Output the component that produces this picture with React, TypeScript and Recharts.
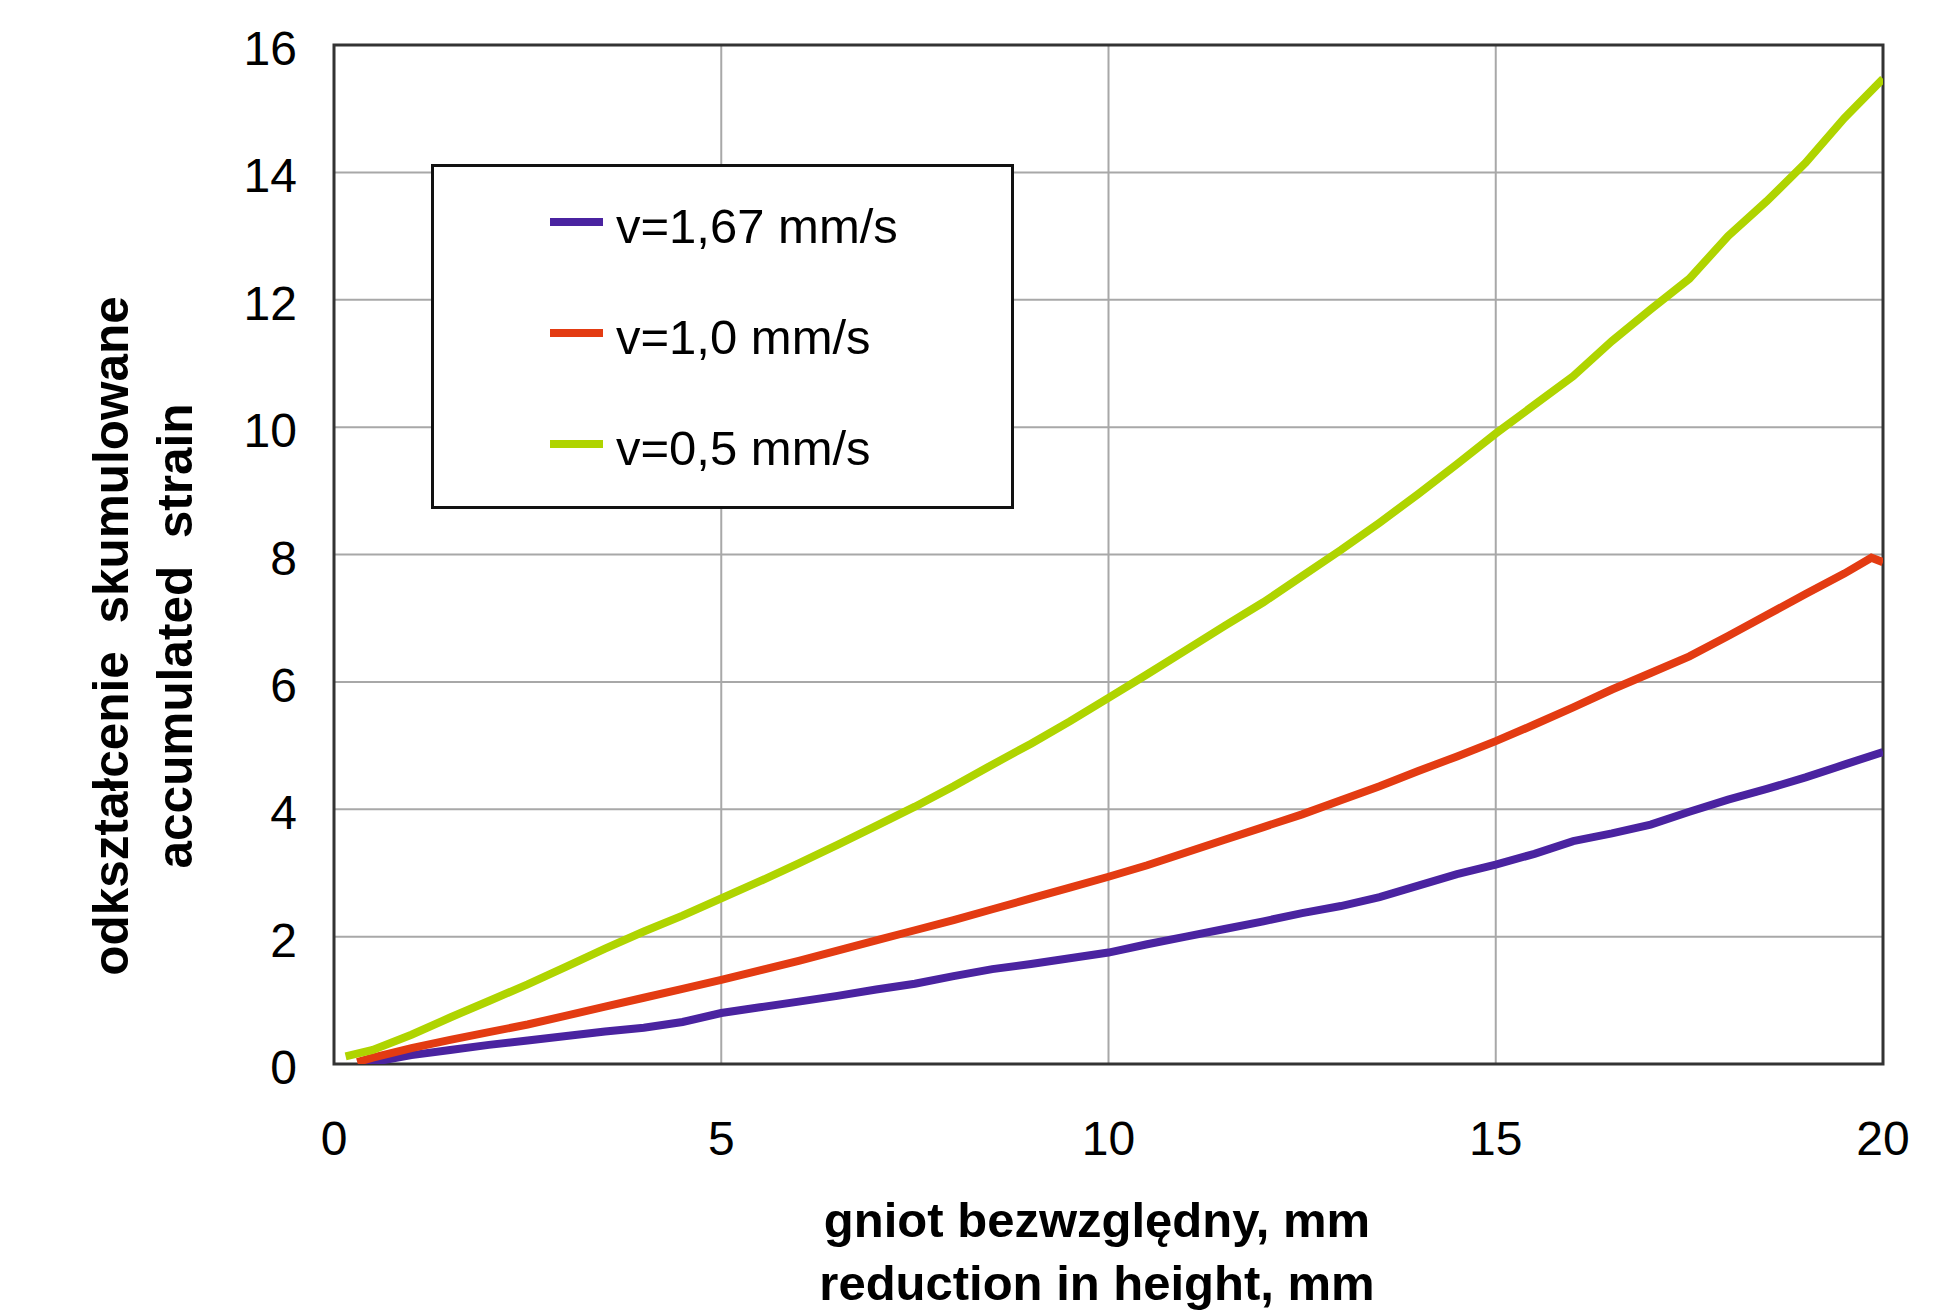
import React from 'react';
import { LineChart, Line, XAxis, YAxis, CartesianGrid, ReferenceArea, Legend, Label } from 'recharts';

const FONT = '"Liberation Sans", Arial, Helvetica, sans-serif';

const seriesNames = ['v=1,67 mm/s', 'v=1,0 mm/s', 'v=0,5 mm/s'];
const seriesColors = ['#4a23a0', '#e33b12', '#afd400'];

const purpleX = [0.4, 0.5, 1.0, 1.5, 2.0, 2.5, 3.0, 3.5, 4.0, 4.5, 5.0, 5.5, 6.0, 6.5, 7.0, 7.5, 8.0, 8.5, 9.0, 9.5, 10.0, 10.5, 11.0, 11.5, 12.0, 12.5, 13.0, 13.5, 14.0, 14.5, 15.0, 15.5, 16.0, 16.5, 17.0, 17.5, 18.0, 18.5, 19.0, 19.5, 20.0];
const purpleY = [0.0, 0.03, 0.14, 0.22, 0.30, 0.37, 0.44, 0.51, 0.57, 0.66, 0.80, 0.89, 0.98, 1.07, 1.17, 1.26, 1.38, 1.49, 1.57, 1.66, 1.75, 1.88, 2.00, 2.12, 2.24, 2.37, 2.48, 2.62, 2.80, 2.98, 3.13, 3.30, 3.50, 3.62, 3.76, 3.96, 4.15, 4.32, 4.50, 4.70, 4.90];

const redX = [0.3, 0.5, 1.0, 1.5, 2.0, 2.5, 3.0, 3.5, 4.0, 4.5, 5.0, 5.5, 6.0, 6.5, 7.0, 7.5, 8.0, 8.5, 9.0, 9.5, 10.0, 10.5, 11.0, 11.5, 12.0, 12.5, 13.0, 13.5, 14.0, 14.5, 15.0, 15.5, 16.0, 16.5, 17.0, 17.5, 18.0, 18.5, 19.0, 19.5, 19.85, 20.0];
const redY = [0.03, 0.10, 0.25, 0.38, 0.50, 0.62, 0.76, 0.90, 1.04, 1.18, 1.32, 1.47, 1.62, 1.78, 1.94, 2.10, 2.26, 2.43, 2.60, 2.77, 2.94, 3.12, 3.32, 3.52, 3.72, 3.92, 4.14, 4.36, 4.60, 4.83, 5.07, 5.33, 5.60, 5.88, 6.14, 6.40, 6.72, 7.05, 7.38, 7.70, 7.95, 7.88];

const greenX = [0.15, 0.5, 1.0, 1.5, 2.0, 2.5, 3.0, 3.5, 4.0, 4.5, 5.0, 5.5, 6.0, 6.5, 7.0, 7.5, 8.0, 8.5, 9.0, 9.5, 10.0, 10.5, 11.0, 11.5, 12.0, 12.5, 13.0, 13.5, 14.0, 14.5, 15.0, 15.5, 16.0, 16.5, 17.0, 17.5, 18.0, 18.5, 19.0, 19.5, 20.0];
const greenY = [0.12, 0.22, 0.46, 0.73, 0.99, 1.25, 1.53, 1.81, 2.08, 2.33, 2.60, 2.87, 3.15, 3.44, 3.74, 4.04, 4.36, 4.70, 5.03, 5.38, 5.75, 6.12, 6.50, 6.88, 7.25, 7.66, 8.07, 8.50, 8.95, 9.42, 9.90, 10.35, 10.80, 11.35, 11.85, 12.33, 13.00, 13.55, 14.15, 14.85, 15.47];

const xTicks = [0, 5, 10, 15, 20];
const yTicks = [0, 2, 4, 6, 8, 10, 12, 14, 16];

const xTitle = ['gniot bezwzględny, mm', 'reduction in height, mm'];
const yTitle = ['odkształcenie  skumulowane', 'accumulated  strain'];

const toRows = (xs: number[], ys: number[]) => xs.map((x, i) => ({ x, y: ys[i] }));

const seriesData = [toRows(purpleX, purpleY), toRows(redX, redY), toRows(greenX, greenY)];

const XTick = (props: any) => {
  const { x, y, payload } = props;
  return (
    <text x={x} y={y + 91} textAnchor="middle" fontSize={48} fontFamily={FONT} fill="#000">
      {payload.value}
    </text>
  );
};

const YTick = (props: any) => {
  const { x, y, payload } = props;
  return (
    <text x={x} y={y + 20} textAnchor="end" fontSize={48} fontFamily={FONT} fill="#000">
      {payload.value}
    </text>
  );
};

const renderLegend = () => {
  const rowsY = [58, 169, 280];
  return (
    <svg width={584} height={346} style={{ display: 'block' }}>
      <rect x={1.5} y={1.5} width={580} height={342} fill="#fff" stroke="#111" strokeWidth={3} />
      {seriesNames.map((n, i) => (
        <g key={n}>
          <line x1={119} x2={172} y1={rowsY[i]} y2={rowsY[i]} stroke={seriesColors[i]} strokeWidth={8} />
          <text x={185} y={rowsY[i] + 21} fontSize={49} fontFamily={FONT} fill="#000">
            {n}
          </text>
        </g>
      ))}
    </svg>
  );
};

const XTitle = () => (
  <g>
    <text x={1097} y={1237} textAnchor="middle" fontSize={49} fontWeight="bold" fontFamily={FONT} fill="#000" style={{ whiteSpace: 'pre' }}>
      {xTitle[0]}
    </text>
    <text x={1097} y={1300} textAnchor="middle" fontSize={49} fontWeight="bold" fontFamily={FONT} fill="#000" style={{ whiteSpace: 'pre' }}>
      {xTitle[1]}
    </text>
  </g>
);

const YTitle = () => (
  <g>
    <text x={128} y={636} transform="rotate(-90 128 636)" textAnchor="middle" fontSize={49.5} fontWeight="bold" fontFamily={FONT} fill="#000" style={{ whiteSpace: 'pre' }}>
      {yTitle[0]}
    </text>
    <text x={192} y={636} transform="rotate(-90 192 636)" textAnchor="middle" fontSize={49.5} fontWeight="bold" fontFamily={FONT} fill="#000" style={{ whiteSpace: 'pre' }}>
      {yTitle[1]}
    </text>
  </g>
);

export default function App() {
  return (
    <div style={{ position: 'absolute', left: 0, top: 0, width: 1946, height: 1314, background: '#fff' }}>
      <LineChart width={1946} height={1314} margin={{ top: 45, right: 63, bottom: 0, left: 0 }}>
        <CartesianGrid stroke="#a8a8a8" strokeWidth={2} horizontalValues={yTicks} verticalValues={xTicks} />
        <XAxis
          type="number"
          dataKey="x"
          domain={[0, 20]}
          ticks={xTicks}
          allowDataOverflow
          height={250}
          axisLine={false}
          tickLine={false}
          tickSize={0}
          tickMargin={0}
          tick={<XTick />}
          interval={0}
        >
          <Label content={<XTitle />} />
        </XAxis>
        <YAxis
          type="number"
          domain={[0, 16]}
          ticks={yTicks}
          allowDataOverflow
          width={334}
          axisLine={false}
          tickLine={false}
          tickSize={0}
          tickMargin={37}
          tick={<YTick />}
          interval={0}
        >
          <Label content={<YTitle />} />
        </YAxis>
        <ReferenceArea x1={0} x2={20} y1={0} y2={16} fill="none" fillOpacity={0} stroke="#333" strokeWidth={3} ifOverflow="visible" />
        {seriesData.map((d, i) => (
          <Line
            key={seriesNames[i]}
            data={d}
            dataKey="y"
            name={seriesNames[i]}
            type="linear"
            stroke={seriesColors[i]}
            strokeWidth={8}
            dot={false}
            activeDot={false}
            isAnimationActive={false}
          />
        ))}
        <Legend
          layout="vertical"
          align="center"
          verticalAlign="middle"
          content={renderLegend}
          wrapperStyle={{ position: 'absolute', left: 431, top: 164, width: 584, height: 346 }}
        />
      </LineChart>
    </div>
  );
}
